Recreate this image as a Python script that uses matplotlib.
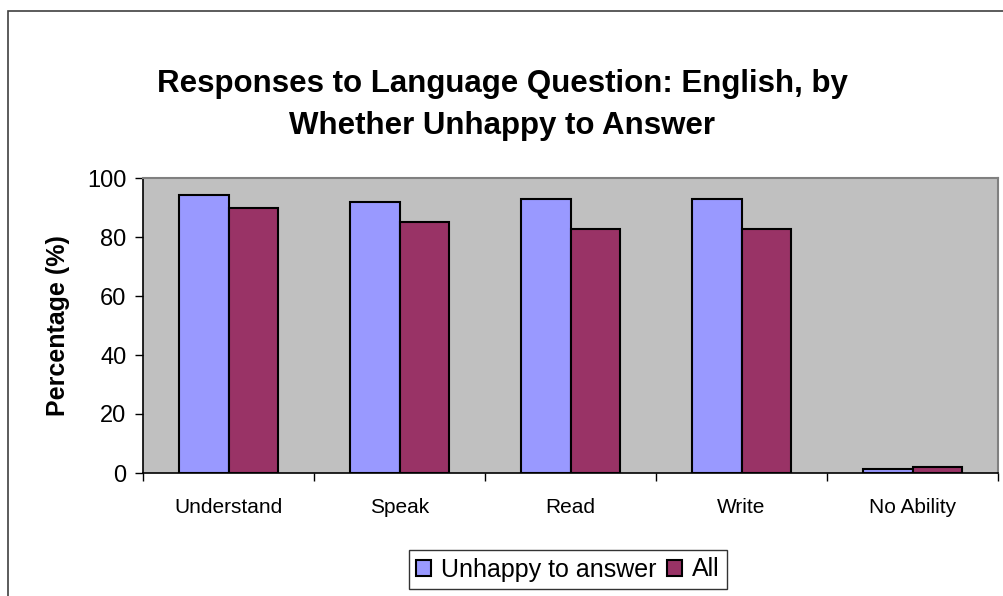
import matplotlib
matplotlib.use("Agg")
import matplotlib.pyplot as plt
from matplotlib.patches import Rectangle
import numpy as np

plt.rcParams["font.family"] = ["Liberation Sans", "DejaVu Sans"]

categories = ["Understand", "Speak", "Read", "Write", "No Ability"]
unhappy = [94.2, 92.0, 92.8, 92.8, 1.2]
all_resp = [89.9, 85.2, 82.6, 82.6, 2.0]
yticks = [0, 20, 40, 60, 80, 100]

W, H = 1004, 596
fig = plt.figure(figsize=(W / 100, H / 100), dpi=100)

# outer chart border (runs off the right/bottom of the picture)
fig.patches.append(Rectangle((8 / W, -0.1), 1.2, 1 - 11 / H + 0.1,
                             transform=fig.transFigure, fill=False,
                             edgecolor="#404040", linewidth=1.2))

ax = fig.add_axes([143 / W, 1 - 473 / H, (998 - 143) / W, (473 - 178) / H])
ax.set_facecolor("#c0c0c0")

x = np.arange(len(categories))
bw = 0.292
ax.bar(x - bw / 2, unhappy, bw, color="#9999ff", edgecolor="black",
       linewidth=1.5, label="Unhappy to answer")
ax.bar(x + bw / 2, all_resp, bw, color="#993366", edgecolor="black",
       linewidth=1.5, label="All")

ax.set_xlim(-0.5, len(categories) - 0.5)
ax.set_ylim(0, 100)
ax.set_yticks(yticks)
ax.tick_params(axis="y", labelsize=17, length=6, width=1, direction="out", pad=6)
ax.set_xticks(x)
ax.set_xticklabels(categories)
ax.tick_params(axis="x", which="major", length=0, labelsize=15, pad=18)
ax.set_xticks(np.arange(len(categories) + 1) - 0.5, minor=True)
ax.tick_params(axis="x", which="minor", length=6, width=1, direction="out")

for side in ["top", "right"]:
    ax.spines[side].set_color("#808080")
    ax.spines[side].set_linewidth(1.5)
ax.spines["left"].set_color("black")
ax.spines["bottom"].set_color("black")
ax.spines["left"].set_linewidth(1.2)
ax.spines["bottom"].set_linewidth(1.2)

ax.set_ylabel("Percentage (%)", fontsize=18, fontweight="bold", labelpad=12)

fig.text(0.5, 1 - 84 / H, "Responses to Language Question: English, by",
         ha="center", va="center", fontsize=22.5, fontweight="bold")
fig.text(0.5, 1 - 126 / H, "Whether Unhappy to Answer",
         ha="center", va="center", fontsize=22.5, fontweight="bold")

leg = fig.legend(loc="center", bbox_to_anchor=(568 / W, 1 - 569.5 / H),
                 ncol=2, fontsize=18, frameon=True, fancybox=False,
                 handlelength=0.6, handleheight=0.6, handletextpad=0.4,
                 columnspacing=0.4, borderpad=0.3, borderaxespad=0)
leg.get_frame().set_edgecolor("black")
leg.get_frame().set_linewidth(1.0)

fig.savefig("out.png", dpi=100)
